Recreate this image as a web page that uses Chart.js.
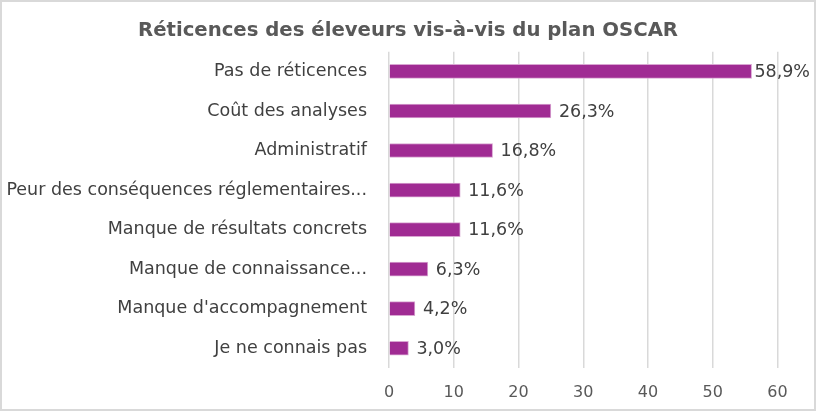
<!DOCTYPE html>
<html>
<head>
<meta charset="utf-8">
<script src="https://cdn.jsdelivr.net/npm/chart.js@4.4.1/dist/chart.umd.min.js"></script>
<style>
  html, body { margin: 0; padding: 0; background: #fff; }
  #cadre { width: 816px; height: 411px; box-sizing: border-box; border: 2px solid #d9d9d9; position: relative; }
</style>
</head>
<body>
<div id="cadre"><canvas id="graphique"></canvas></div>
<script>
// Données (barres = nombre de réponses, étiquettes = %)
const categories = [
    'Pas de réticences',
    'Coût des analyses',
    'Administratif',
    'Peur des conséquences réglementaires...',
    'Manque de résultats concrets',
    'Manque de connaissance...',
    "Manque d'accompagnement",
    'Je ne connais pas'
];
const reponses = [56, 25, 16, 11, 11, 6, 4, 3];
const etiquettes = ['58,9%', '26,3%', '16,8%', '11,6%', '11,6%', '6,3%', '4,2%', '3,0%'];
const ticksX = [0, 10, 20, 30, 40, 50, 60];

const POLICE = '"DejaVu Sans", sans-serif';

// Plugin maison : écrit le pourcentage au bout de chaque barre
const pluginEtiquettes = {
    id: 'etiquettes',
    afterDatasetsDraw(chart) {
        const ctx = chart.ctx;
        const meta = chart.getDatasetMeta(0);
        ctx.save();
        ctx.font = '17.5px ' + POLICE;
        ctx.fillStyle = '#404040';
        ctx.textBaseline = 'middle';
        ctx.textAlign = 'left';
        meta.data.forEach((barre, i) => {
            const texte = etiquettes[i];
            const largeur = ctx.measureText(texte).width;
            const x = Math.min(barre.x + 8, chart.width - 4 - largeur);
            ctx.fillText(texte, x, barre.y + 1);
        });
        ctx.restore();
    }
};

const ctx = document.getElementById('graphique').getContext('2d');
new Chart(ctx, {
    type: 'bar',
    data: {
        labels: categories,
        datasets: [{
            data: reponses,
            backgroundColor: '#A02B93',
            borderColor: '#D9A6D2',
            borderWidth: 1,
            barThickness: 14
        }]
    },
    plugins: [pluginEtiquettes],
    options: {
        indexAxis: 'y',
        responsive: true,
        maintainAspectRatio: false,
        animation: false,
        layout: { padding: 0 },
        plugins: {
            legend: { display: false },
            tooltip: { enabled: false },
            title: {
                display: true,
                text: 'Réticences des éleveurs vis-à-vis du plan OSCAR',
                color: '#595959',
                font: { family: POLICE, size: 19.7, weight: 'bold' },
                padding: { top: 17, bottom: 9 }
            }
        },
        scales: {
            x: {
                min: 0,
                max: 60,
                afterBuildTicks: axe => { axe.ticks = ticksX.map(v => ({ value: v })); },
                // marge à droite pour l'étiquette 58,9% sans décentrer le titre
                afterFit: axe => { axe.height = 41; axe.paddingRight = 36.5; },
                grid: { color: '#d9d9d9', lineWidth: 1.5, drawTicks: false },
                border: { display: false },
                ticks: { color: '#595959', font: { family: POLICE, size: 16 }, padding: 15 }
            },
            y: {
                grid: { display: false },
                border: { display: false },
                afterFit: axe => { axe.width = 387; },
                ticks: { color: '#404040', font: { family: POLICE, size: 17.5 }, padding: 14, autoSkip: false }
            }
        }
    }
});
</script>
</body>
</html>
